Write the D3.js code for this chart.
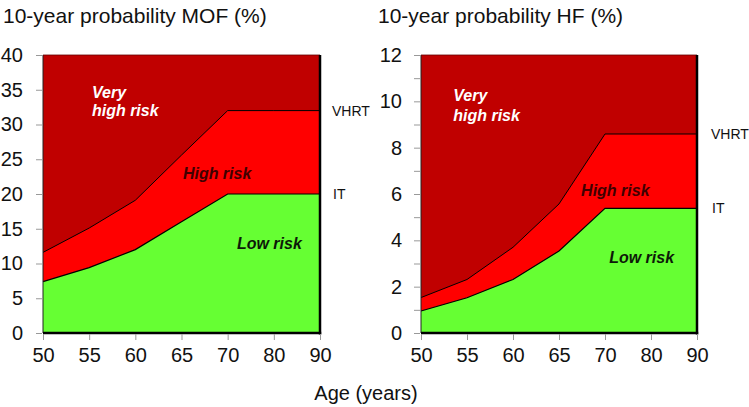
<!DOCTYPE html>
<html><head><meta charset="utf-8">
<script src="https://cdn.jsdelivr.net/npm/d3@7"></script>
<style>body{margin:0;background:#fff}svg{display:block}text{font-family:"Liberation Sans",Arial,sans-serif}</style>
</head><body>
<svg id="c" width="749" height="407"></svg>
<script>
const ages = ["50","55","60","65","70","80","90"];
const mofIT = [7.4, 9.4, 12.0, 16.0, 20, 20, 20];
const mofVHRT = [11.6, 15.1, 19.1, 25.6, 32, 32, 32];
const hfIT = [0.95, 1.52, 2.31, 3.54, 5.38, 5.38, 5.38];
const hfVHRT = [1.53, 2.31, 3.70, 5.57, 8.59, 8.59, 8.59];
const mofTicks = [0,5,10,15,20,25,30,35,40];
const hfTicks = [0,2,4,6,8,10,12];
const hfMinor = [1,3,5,7,9,11];

const svg = d3.select("#c");
const colVery = "#c00000", colHigh = "#ff0000", colLow = "#66ff33";

function panel(opt){
  const g = svg.append("g");
  const x = d3.scalePoint().domain(ages).range([opt.x0, opt.x1]);
  const xi = d3.scaleLinear().domain([0, ages.length-1]).range([opt.x0, opt.x1]);
  const y = d3.scaleLinear().domain([0, opt.max]).range([333, 55]);
  const data = ages.map((a,i)=>({a, it:opt.it[i], vh:opt.vh[i]}));
  g.append("rect").attr("x",opt.x0).attr("y",y(opt.max)).attr("width",opt.x1-opt.x0).attr("height",y(0)-y(opt.max)).attr("fill",colVery);
  g.append("path").datum(data).attr("fill",colHigh)
    .attr("d", d3.area().x(d=>x(d.a)).y0(y(0)).y1(d=>y(d.vh)));
  g.append("path").datum(data).attr("fill",colLow)
    .attr("d", d3.area().x(d=>x(d.a)).y0(y(0)).y1(d=>y(d.it)));
  g.append("path").datum(data).attr("fill","none").attr("stroke","#000").attr("stroke-width",1)
    .attr("d", d3.line().x(d=>x(d.a)).y(d=>y(d.vh)));
  g.append("path").datum(data).attr("fill","none").attr("stroke","#000").attr("stroke-width",1.2)
    .attr("d", d3.line().x(d=>x(d.a)).y(d=>y(d.it)));
  g.append("line").attr("x1",opt.x0).attr("x2",opt.x0).attr("y1",y(opt.max)).attr("y2",y(0)).attr("stroke","#222").attr("stroke-width",1);
  g.append("line").attr("x1",opt.x0).attr("x2",opt.x1).attr("y1",y(opt.max)).attr("y2",y(opt.max)).attr("stroke","#600").attr("stroke-width",0.8);
  g.append("line").attr("x1",opt.x1).attr("x2",opt.x1).attr("y1",y(opt.max)).attr("y2",y(0)+1.5).attr("stroke","#000").attr("stroke-width",2.5);
  g.append("line").attr("x1",opt.x0).attr("x2",opt.x1+1.2).attr("y1",y(0)).attr("y2",y(0)).attr("stroke","#000").attr("stroke-width",2.5);
  const ya = d3.axisLeft(y).tickValues(opt.ticks).tickSize(6).tickPadding(opt.pad).tickFormat(d3.format("d"));
  const yg = g.append("g").attr("transform",`translate(${opt.x0-1},0)`).call(ya);
  yg.select(".domain").remove();
  yg.selectAll(".tick line").attr("stroke","#999");
  yg.selectAll(".tick text").attr("font-size",20).attr("fill","#111").attr("font-family",'"Liberation Sans",Arial,sans-serif');
  if (opt.minor){
    g.append("g").attr("transform",`translate(${opt.x0-1},0)`)
      .call(d3.axisLeft(y).tickValues(opt.minor).tickSize(6).tickFormat(""))
      .call(s=>{s.select(".domain").remove(); s.selectAll(".tick line").attr("stroke","#999");});
  }
  const xa = d3.axisBottom(x).tickSize(6).tickPadding(8);
  const xg = g.append("g").attr("transform",`translate(0,${y(0)+1})`).call(xa);
  xg.select(".domain").remove();
  xg.selectAll(".tick line").attr("stroke","#999");
  xg.selectAll(".tick text").attr("font-size",20).attr("fill","#111").attr("font-family",'"Liberation Sans",Arial,sans-serif');
  g.append("text").attr("x",opt.tx).attr("y",23).attr("font-size",21).attr("fill","#111").text(opt.title);
  const last = ages.length-1;
  g.append("text").attr("x",opt.x1+opt.lo).attr("y",y(opt.vh[last])).attr("dy","0.35em").attr("font-size",14).attr("font-family",'"Open Sans",sans-serif').attr("fill","#111").text("VHRT");
  g.append("text").attr("x",opt.x1+opt.lo+1).attr("y",y(opt.it[last])).attr("dy","0.35em").attr("font-size",14).attr("font-family",'"Open Sans",sans-serif').attr("fill","#111").text("IT");
  const lab = (i,v,t,c)=>g.append("text").attr("x",xi(i)).attr("y",y(v)).attr("font-size",16).attr("font-weight","bold").attr("font-style","italic").attr("fill",c).text(t);
  opt.labels.forEach(l=>lab(...l));
}

panel({x0:43, x1:320, max:40, it:mofIT, vh:mofVHRT, ticks:mofTicks, pad:13, title:"10-year probability MOF (%)", tx:3, lo:12,
  labels:[[1.06,33.8,"Very","#fff"],[1.06,31.2,"high risk","#fff"],[3.03,22.2,"High risk","#400000"],[4.2,12.1,"Low risk","#0d1a08"]]});
panel({x0:421, x1:697, max:12, it:hfIT, vh:hfVHRT, ticks:hfTicks, minor:hfMinor, pad:12, title:"10-year probability HF (%)", tx:378, lo:14,
  labels:[[0.70,10.0,"Very","#fff"],[0.70,9.13,"high risk","#fff"],[3.48,5.93,"High risk","#400000"],[4.09,3.03,"Low risk","#0d1a08"]]});

svg.append("text").attr("x",366).attr("y",400).attr("text-anchor","middle").attr("font-size",20).attr("fill","#111").text("Age (years)");
</script>
</body></html>
